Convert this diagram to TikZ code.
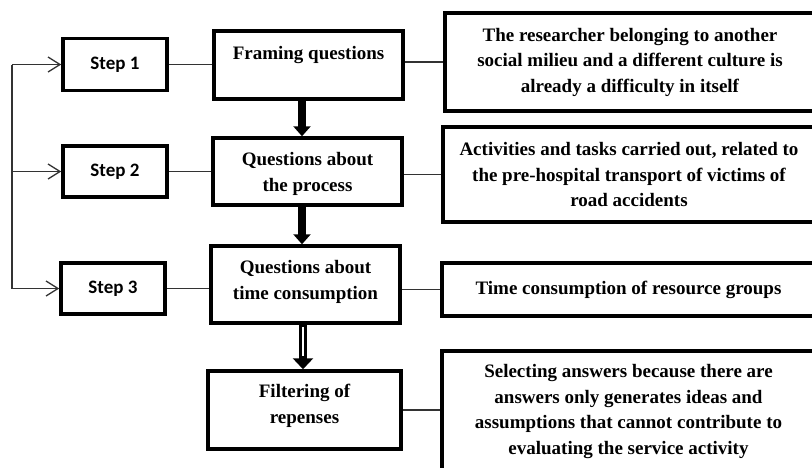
\documentclass[tikz,border=0pt]{standalone}
\usepackage{fontspec}
\setmainfont{Liberation Serif}
\newfontfamily\stepfont{Carlito}
\usetikzlibrary{arrows.meta}
\begin{document}
\begin{tikzpicture}[x=1pt,y=-1pt,
  boxline/.style={draw=black, line width=3.5pt},
  stepbox/.style={boxline, minimum width=104pt, minimum height=52pt, inner sep=0pt,
    font=\stepfont\bfseries\fontsize{19}{23}\selectfont},
  cbox/.style={boxline, minimum width=189pt, inner sep=0pt},
  ctext/.style={align=center, inner sep=0pt, anchor=north,
    font=\bfseries\fontsize{19}{25.5}\selectfont},
  rbox/.style={boxline, align=center, inner sep=0pt, minimum width=373pt,
    font=\bfseries\fontsize{19}{25.5}\selectfont},
  thin/.style={draw=black!80, line width=1.3pt},
  barb/.style={thin, -{Straight Barb[length=12pt,width=15pt]}},
  fat/.style={line width=8pt, -{Triangle[length=10pt,width=17pt]}}
]
\useasboundingbox (0,0) rectangle (812,467);
\clip (0,0) rectangle (812,467);
\fill[white] (0,0) rectangle (812,467);

% step boxes
\node[stepbox] (s1) at (115,64.5) {Step 1};
\node[stepbox, minimum height=51pt] (s2) at (115,171.5) {Step 2};
\node[stepbox, minimum height=51pt] (s3) at (113,288.5) {Step 3};

% centre boxes
\node[cbox, minimum height=68pt] (c1) at (308.5,65) {};
\node[cbox, minimum height=67pt] (c2) at (307.5,171.5) {};
\node[cbox, minimum height=77pt] (c3) at (305.5,284.5) {};
\node[cbox, minimum width=193pt, minimum height=78pt] (c4) at (304.5,410) {};
\node[ctext] (t1) at ([yshift=-17pt]c1.north) {Framing questions};
\node[ctext] (t2) at ([yshift=-16pt]c2.north) {Questions about\\the process};
\node[ctext] (t3) at ([yshift=-16pt]c3.north) {Questions about\\time consumption};
\node[ctext] (t4) at ([yshift=-15pt]c4.north) {Filtering of\\repenses};

% right boxes
\node[rbox, minimum width=370pt, minimum height=98pt] (r1) at (630,62)
  {The researcher belonging to another\\social milieu and a different culture is\\already a difficulty in itself};
\node[rbox, minimum width=372pt, minimum height=95pt] (r2) at (629,174.5)
  {Activities and tasks carried out, related to\\the pre-hospital transport of victims of\\road accidents};
\node[rbox, minimum height=53pt] (r3) at (628.5,289.5)
  {Time consumption of resource groups};
\node[rbox, minimum height=121pt] (r4) at (628.5,411.5)
  {Selecting answers because there are\\answers only generates ideas and\\assumptions that cannot contribute to\\evaluating the service activity};

% left bracket with arrows
\coordinate (L) at (12,0);
\draw[thin] (s1.west -| L) -- (s3.west -| L);
\draw[barb] (s1.west -| L) -- (s1.west);
\draw[barb] (s2.west -| L) -- (s2.west);
\draw[barb] (s3.west -| L) -- (s3.west);

% step to centre
\draw[thin] (s1.east) -- (s1.east -| c1.west);
\draw[thin] (s2.east) -- (s2.east -| c2.west);
\draw[thin] (s3.east) -- (s3.east -| c3.west);

% centre to right
\draw[thin] (r1.west -| c1.east) -- (r1.west);
\draw[thin] (r2.west -| c2.east) -- (r2.west);
\draw[thin] (r3.west -| c3.east) -- (r3.west);
\draw[thin] (c4.east) -- (c4.east -| r4.west);

% vertical arrows
\coordinate (A) at (302,0);
\coordinate (B) at (303,0);
\draw[fat] (c1.south -| A) -- (c2.north -| A);
\draw[fat] (c2.south -| A) -- (c3.north -| A);
\draw[line width=8pt, -{Triangle[length=11pt,width=20pt]}] (c3.south -| B) -- (c4.north -| B);
\draw[white, line width=2.6pt] ([yshift=-2pt]c3.south -| B) -- ([yshift=13pt]c4.north -| B);
\end{tikzpicture}
\end{document}
